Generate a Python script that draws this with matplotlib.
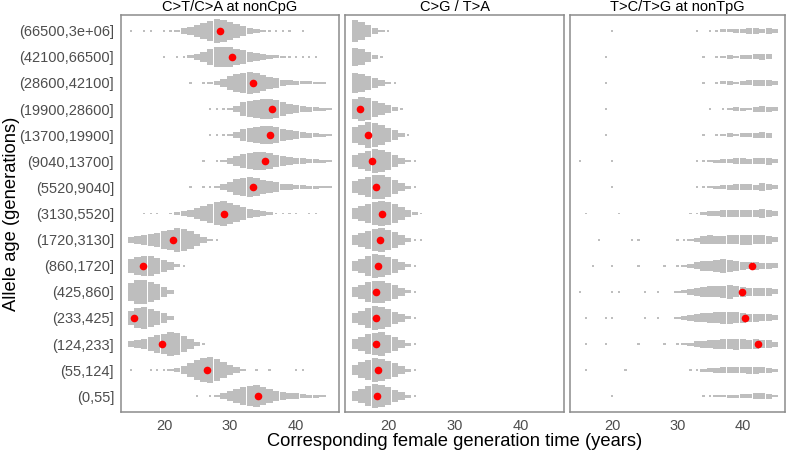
import numpy as np
import matplotlib
matplotlib.use("Agg")
import matplotlib.pyplot as plt

plt.rcParams['font.family'] = ['Liberation Sans', 'DejaVu Sans']

# allele age bins, listed top row first
age_bins = ['(66500,3e+06]', '(42100,66500]', '(28600,42100]', '(19900,28600]',
            '(13700,19900]', '(9040,13700]', '(5520,9040]', '(3130,5520]',
            '(1720,3130]', '(860,1720]', '(425,860]', '(233,425]',
            '(124,233]', '(55,124]', '(0,55]']
panels = ['C>T/C>A at nonCpG', 'C>G / T>A', 'T>C/T>G at nonTpG']

# generation time grid (years) used for the gray clouds
years = np.arange(15, 46)


def prof(d):
    # half-height of the cloud (pixels) at each year; missing years are empty
    return [d.get(int(y), 0) for y in years]


# gray cloud half-heights, panel 1
ct_cloud = [
    prof({15: .5, 17: .5, 18: .5, 20: .5, 21: .5, 22: 1, 23: 3, 24: 4, 25: 6, 26: 8, 27: 10, 28: 12,
          29: 11, 30: 9, 31: 7, 32: 5, 33: 3, 34: 2, 35: 1, 36: .5, 37: .5, 38: .5, 39: .5, 41: .5}),
    prof({20: .5, 22: .5, 23: .5, 24: 1.5, 25: 3, 26: 5, 27: 8, 28: 10, 29: 10, 30: 10, 31: 8, 32: 7,
          33: 5, 34: 4, 35: 3, 36: 2, 37: 1.5, 38: 1, 39: .5, 40: .5, 41: .5, 42: .5, 43: .5}),
    prof({24: .5, 26: .5, 27: 1, 28: 2, 29: 4, 30: 7, 31: 9, 32: 10, 33: 11, 34: 10, 35: 8, 36: 6,
          37: 5, 38: 3, 39: 2.5, 40: 2, 41: 1.5, 42: 1.5, 43: 1, 44: 1}),
    prof({27: .5, 28: .5, 29: .5, 30: 1, 31: 3, 32: 7, 33: 8, 34: 9, 35: 10, 36: 10, 37: 9, 38: 7,
          39: 5, 40: 4, 41: 3, 42: 2.5, 43: 2, 44: 1.5, 45: 1}),
    prof({27: .5, 28: .5, 29: .5, 30: 1, 31: 3, 32: 6, 33: 7, 34: 8, 35: 9, 36: 9, 37: 8, 38: 6,
          39: 5, 40: 4, 41: 3, 42: 2.5, 43: 2, 44: 1.5, 45: 1}),
    prof({26: .5, 28: .5, 29: 1, 30: 3, 31: 5, 32: 7, 33: 8, 34: 9, 35: 9, 36: 8, 37: 6, 38: 5,
          39: 4, 40: 3, 41: 3, 42: 2, 43: 2, 44: 1.5, 45: 1}),
    prof({24: .5, 26: .5, 27: .5, 28: 1, 29: 3, 30: 5, 31: 8, 32: 9, 33: 10, 34: 9, 35: 7, 36: 6,
          37: 5, 38: 3, 39: 3, 40: 2, 41: 2, 42: 1.5, 43: 1.5, 44: 1, 45: 1}),
    prof({17: .5, 18: .5, 19: .5, 21: .5, 22: 1, 23: 2, 24: 3, 25: 5, 26: 7, 27: 9, 28: 11, 29: 12,
          30: 10, 31: 8, 32: 6, 33: 4, 34: 3, 35: 2, 36: 1, 37: .5, 38: .5, 39: .5, 40: .5, 42: .5, 43: .5}),
    prof({15: 3, 16: 4, 17: 5, 18: 6, 19: 7, 20: 9, 21: 10, 22: 12, 23: 11, 24: 9, 25: 6, 26: 3, 27: 1, 28: .5}),
    prof({15: 7, 16: 9, 17: 10, 18: 10, 19: 8, 20: 6, 21: 4, 22: 1.5, 23: .5}),
    prof({15: 9, 16: 12, 17: 12, 18: 10, 19: 8, 20: 5, 21: 2}),
    prof({15: 7, 16: 10, 17: 11, 18: 9, 19: 7, 20: 5, 21: 2}),
    prof({15: 3, 16: 4, 17: 5, 18: 7, 19: 9, 20: 10, 21: 12, 22: 11, 23: 8, 24: 5, 25: 2, 26: .5}),
    prof({15: .5, 18: .5, 19: .5, 20: .5, 21: 1, 22: 2, 23: 4, 24: 7, 25: 10, 26: 12, 27: 13, 28: 11,
          29: 8, 30: 5, 31: 3, 32: 1, 34: .5, 36: .5, 40: .5, 41: .5}),
    prof({25: .5, 27: .5, 28: 1, 29: 3, 30: 5, 31: 7, 32: 9, 33: 10, 34: 11, 35: 9, 36: 7, 37: 5,
          38: 4, 39: 3, 40: 3, 41: 2, 42: 1.5, 43: 1.5, 44: 1}),
]

# gray cloud half-heights, panel 2
cg_cloud = [
    prof({15: 11, 16: 9, 17: 6, 18: 3, 19: 1, 20: .5}),
    prof({15: 9, 16: 8, 17: 5, 18: 2, 19: .5}),
    prof({15: 10, 16: 9, 17: 7, 18: 5, 19: 3, 20: 1, 21: .5}),
    prof({15: 10, 16: 12, 17: 11, 18: 8, 19: 6, 20: 4, 21: 2, 22: .5}),
    prof({15: 8, 16: 10, 17: 13, 18: 12, 19: 10, 20: 7, 21: 5, 22: 2, 23: .5}),
    prof({15: 6, 16: 8, 17: 10, 18: 12, 19: 11, 20: 9, 21: 6, 22: 3, 23: 1, 24: .5}),
    prof({15: 6, 16: 8, 17: 10, 18: 12, 19: 12, 20: 10, 21: 7, 22: 4, 23: 1.5, 24: .5}),
    prof({15: 5, 16: 7, 17: 9, 18: 11, 19: 12, 20: 11, 21: 9, 22: 6, 23: 3, 24: 1, 25: .5}),
    prof({15: 5, 16: 7, 17: 9, 18: 11, 19: 12, 20: 10, 21: 8, 22: 5, 23: 2, 24: .5, 25: .5}),
    prof({15: 5, 16: 7, 17: 10, 18: 12, 19: 11, 20: 9, 21: 7, 22: 4, 23: 1.5, 24: .5}),
    prof({15: 5, 16: 7, 17: 10, 18: 11, 19: 11, 20: 9, 21: 7, 22: 4, 23: 1.5, 24: .5}),
    prof({15: 5, 16: 7, 17: 10, 18: 12, 19: 11, 20: 9, 21: 6, 22: 4, 23: 1.5, 24: .5}),
    prof({15: 5, 16: 7, 17: 10, 18: 11, 19: 12, 20: 9, 21: 7, 22: 4, 23: 1.5, 24: .5}),
    prof({15: 5, 16: 8, 17: 10, 18: 12, 19: 11, 20: 9, 21: 7, 22: 4, 23: 1.5, 24: .5}),
    prof({15: 5, 16: 7, 17: 10, 18: 12, 19: 11, 20: 9, 21: 6, 22: 4, 23: 1.5, 24: .5}),
]

# gray cloud half-heights, panel 3
tc_cloud = [
    prof({20: .5, 33: .5, 35: .5, 36: .5, 37: 1.5, 38: 1.5, 39: 2, 40: 2, 41: 3, 42: 3, 43: 2, 44: 3, 45: 2}),
    prof({19: .5, 34: .5, 36: .5, 37: 1, 38: 2, 39: 1, 40: 2, 41: 2, 42: 2.5, 43: 3, 44: 2.5}),
    prof({19: .5, 34: .5, 36: .5, 37: 1.5, 38: 2, 39: 1, 40: 2, 41: 2.5, 42: 3, 43: 3, 44: 3, 45: 2}),
    prof({19: .5, 35: .5, 37: .5, 38: 1, 39: 2, 40: 1.5, 41: 1, 42: 2.5, 43: 3, 44: 2.5, 45: 2}),
    prof({19: .5, 34: .5, 36: .5, 37: 1, 38: 2, 39: 1, 40: 2, 41: 2, 42: 2.5, 43: 3, 44: 2.5}),
    prof({15: .5, 20: .5, 33: .5, 34: .5, 35: 1, 36: 1.5, 37: 2, 38: 2, 39: 3, 40: 3, 41: 2.5,
          42: 3, 43: 3, 44: 3.5, 45: 2}),
    prof({20: .5, 33: .5, 34: .5, 35: 1, 36: 1.5, 37: 2, 38: 2.5, 39: 3, 40: 3, 41: 3, 42: 2.5,
          43: 4, 44: 3, 45: 2}),
    prof({16: .5, 21: .5, 32: .5, 33: .5, 34: 1, 35: 2, 36: 2.5, 37: 3, 38: 3, 39: 3, 40: 3.5,
          41: 3, 42: 3.5, 43: 4, 44: 3.5, 45: 2}),
    prof({18: .5, 23: .5, 24: .5, 30: .5, 31: .5, 32: 1, 33: 2, 34: 4, 35: 4.5, 36: 4, 37: 4,
          38: 4.5, 39: 4.5, 40: 5, 41: 5, 42: 4.5, 43: 4.5, 44: 4, 45: 2.5}),
    prof({17: .5, 20: .5, 24: .5, 28: .5, 30: .5, 31: 1, 32: 2, 33: 3.5, 34: 5, 35: 5, 36: 6,
          37: 7, 38: 6, 39: 5, 40: 4, 41: 3.5, 42: 4, 43: 3, 44: 3, 45: 2.5}),
    prof({15: .5, 20: .5, 21: .5, 25: .5, 27: .5, 30: 1, 31: 1.5, 32: 3, 33: 4, 34: 5, 35: 5.5,
          36: 5.5, 37: 6, 38: 7, 39: 5.5, 40: 5, 41: 4, 42: 4, 43: 4, 44: 4, 45: 2.5}),
    prof({16: .5, 19: .5, 20: .5, 25: .5, 27: .5, 30: 1, 31: 2, 32: 3, 33: 4, 34: 4.5, 35: 5,
          36: 5.5, 37: 6, 38: 6, 39: 5.5, 40: 5, 41: 4, 42: 4, 43: 3.5, 44: 3.5, 45: 2.5}),
    prof({16: .5, 19: .5, 24: .5, 28: .5, 30: .5, 31: 1, 32: 1.5, 33: 3, 34: 3.5, 35: 4, 36: 4.5,
          37: 5, 38: 5, 39: 5.5, 40: 5, 41: 4.5, 42: 5, 43: 4, 44: 4, 45: 2.5}),
    prof({16: .5, 22: .5, 32: .5, 33: .5, 34: 1.5, 35: 2, 36: 2.5, 37: 3, 38: 3, 39: 3, 40: 3,
          41: 3.5, 42: 3.5, 43: 3, 44: 2.5, 45: 1.5}),
    prof({20: .5, 34: .5, 35: .5, 36: 1, 37: 1, 38: 1.5, 39: 1.5, 40: 2, 41: 2, 42: 3, 43: 3,
          44: 2.5, 45: 1}),
]

nan = np.nan
# red points (point estimates), top row first
ct_est = [28.5, 30.25, 33.5, 36.3, 36.1, 35.3, 33.5, 29.05, 21.4, 16.8, nan, 15.4, 19.75, 26.5, 34.2]
cg_est = [nan, nan, nan, 15.7, 17.0, 17.6, 18.2, 19.0, 18.8, 18.4, 18.1, 18.1, 18.2, 18.4, 18.3]
tc_est = [nan, nan, nan, nan, nan, nan, nan, nan, nan, 41.4, 39.9, 40.4, 42.4, nan, nan]

clouds = [ct_cloud, cg_cloud, tc_cloud]
ests = [ct_est, cg_est, tc_est]

n = len(age_bins)
ypos = n - np.arange(n)  # top row at y=15
row_px = 26.07

fig = plt.figure(figsize=(7.9, 4.51), dpi=100)
lefts = [121, 345, 570]
widths = [218, 219, 215]
for k in range(3):
    ax = fig.add_axes([lefts[k] / 790, 1 - 412 / 451, widths[k] / 790, 397 / 451])
    for i in range(n):
        h = np.array(clouds[k][i]) / row_px
        # dense part of the cloud
        m = h > 0.5 / row_px
        ax.bar(years[m], 2 * h[m], bottom=ypos[i] - h[m], width=0.95,
               color='#BEBEBE', linewidth=0)
        # isolated points in the tails
        t = (h > 0) & ~m
        ax.bar(years[t], 0.07, bottom=ypos[i] - 0.035, width=0.35,
               color='#BEBEBE', linewidth=0)
    ax.plot(ests[k], ypos, 'o', color='red', ms=5.5, mec='none', zorder=3)
    ax.set_xlim(13.5, 46.5)
    ax.set_ylim(0.4, n + 0.6)
    ax.set_xticks([20, 30, 40])
    ax.set_yticks(ypos)
    if k == 0:
        ax.set_yticklabels(age_bins)
    else:
        ax.set_yticklabels([])
    ax.tick_params(length=0, labelsize=10.5, labelcolor='#4D4D4D', pad=5)
    ax.set_title(panels[k], fontsize=10.5, pad=3)
    for s in ax.spines.values():
        s.set_color('#8C8C8C')
        s.set_linewidth(1.1)

fig.text(12 / 790, 1 - 213.5 / 451, 'Allele age (generations)', rotation=90,
         ha='center', va='center', fontsize=13.2)
fig.text(455 / 790, 1 - 441 / 451, 'Corresponding female generation time (years)',
         ha='center', va='center', fontsize=13.2)

fig.savefig('out.png', dpi=100)
